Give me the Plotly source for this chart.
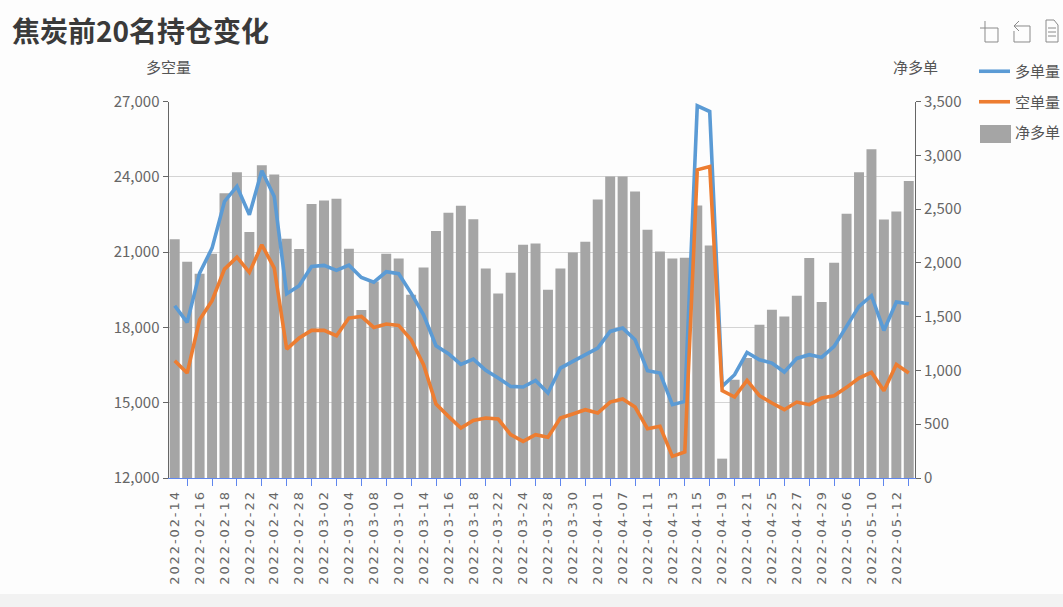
import plotly.graph_objects as go

dates = ["2022-02-14","2022-02-15","2022-02-16","2022-02-17","2022-02-18","2022-02-21","2022-02-22","2022-02-23","2022-02-24","2022-02-25",
         "2022-02-28","2022-03-01","2022-03-02","2022-03-03","2022-03-04","2022-03-07","2022-03-08","2022-03-09","2022-03-10","2022-03-11",
         "2022-03-14","2022-03-15","2022-03-16","2022-03-17","2022-03-18","2022-03-21","2022-03-22","2022-03-23","2022-03-24","2022-03-25",
         "2022-03-28","2022-03-29","2022-03-30","2022-03-31","2022-04-01","2022-04-06","2022-04-07","2022-04-08","2022-04-11","2022-04-12",
         "2022-04-13","2022-04-14","2022-04-15","2022-04-18","2022-04-19","2022-04-20","2022-04-21","2022-04-22","2022-04-25","2022-04-26",
         "2022-04-27","2022-04-28","2022-04-29","2022-05-05","2022-05-06","2022-05-09","2022-05-10","2022-05-11","2022-05-12","2022-05-13"]
long_pos = [18863,18199,20163,21159,23017,23615,22486,24239,23217,19340,
            19659,20429,20469,20270,20482,19991,19805,20217,20137,19367,
            18504,17270,16951,16526,16739,16287,15982,15650,15624,15889,
            15385,16380,16646,16911,17177,17840,17973,17509,16274,16181,
            14920,15053,26827,26601,15650,16115,17004,16712,16580,16221,
            16765,16911,16805,17243,18040,18836,19261,17880,19009,18942]
short_pos = [16672,16181,18305,19062,20323,20800,20190,21292,20363,17137,
             17575,17880,17880,17668,18372,18438,18000,18133,18080,17509,
             16513,14947,14456,13991,14296,14389,14350,13726,13460,13726,
             13620,14389,14549,14721,14588,15026,15146,14827,13965,14058,
             12863,13035,24278,24411,15478,15226,15889,15279,14987,14721,
             15026,14920,15186,15279,15611,15982,16208,15478,16526,16181]
net_long = [2220,2010,1898,2084,2648,2843,2286,2908,2821,2224,
            2128,2546,2580,2595,2131,1561,1827,2084,2041,1703,
            1957,2295,2465,2530,2406,1948,1716,1908,2168,2180,
            1750,1948,2097,2196,2589,2803,2803,2663,2307,2106,
            2041,2047,2533,2162,180,914,1115,1425,1564,1502,
            1694,2044,1635,2000,2456,2843,3057,2403,2478,2762]
left_ticks = [12000,15000,18000,21000,24000,27000]
right_ticks = [0,500,1000,1500,2000,2500,3000,3500]

W, H = 1063, 607
L, R, T, B = 168.5, 915.0, 101.5, 478.0
FONT = "Noto Sans CJK SC"
TXT = "#666666"

def px(x): return x / W
def py(y): return 1 - y / H

fig = go.Figure()
fig.add_trace(go.Scatter(x=dates, y=long_pos, name="多单量", yaxis="y2", mode="lines",
                         line=dict(color="#5b9bd5", width=3.6), legendgroup="a"))
fig.add_trace(go.Scatter(x=dates, y=short_pos, name="空单量", yaxis="y2", mode="lines",
                         line=dict(color="#ed7d31", width=3.6), legendgroup="b"))
fig.add_trace(go.Bar(x=dates, y=net_long, name="净多单", yaxis="y",
                     marker=dict(color="#a5a5a5", line=dict(width=0)), legendgroup="c"))

shapes = [
    dict(type="rect", xref="paper", yref="paper", x0=0, x1=1, y0=py(607), y1=py(594),
         fillcolor="#f2f2f2", line_width=0, layer="below"),
    dict(type="rect", xref="paper", yref="paper", x0=px(980), x1=px(1011), y0=py(143), y1=py(125),
         fillcolor="#a5a5a5", line_width=0, layer="below"),
]
icon = dict(type="path", xref="paper", yref="paper", line=dict(color="#8a8a8a", width=1))
def path(points):
    return "M" + " L".join(f"{px(a):.5f},{py(b):.5f}" for a, b in points)
for pts in (
    [(985, 21), (985, 42), (998, 42), (998, 28), (980, 28)],
    [(1019, 21), (1014, 26), (1019, 31)],
    [(1014, 26), (1030, 26), (1030, 42), (1014, 42), (1014, 31)],
    [(1046, 20), (1054, 20), (1058, 25), (1058, 42), (1046, 42), (1046, 20)],
    [(1048, 28), (1056, 28)], [(1048, 32), (1056, 32)], [(1048, 36), (1056, 36)],
):
    shapes.append(dict(icon, path=path(pts)))

annots = [
    dict(text="多空量", x=px(L), y=py(66), xref="paper", yref="paper", showarrow=False,
         xanchor="center", yanchor="middle", font=dict(family=FONT, size=15, color="#555555")),
    dict(text="净多单", x=px(R), y=py(66), xref="paper", yref="paper", showarrow=False,
         xanchor="center", yanchor="middle", font=dict(family=FONT, size=15, color="#555555")),
]

fig.update_layout(
    width=W, height=H, autosize=False,
    margin=dict(l=0, r=0, t=0, b=0, pad=0, autoexpand=False),
    paper_bgcolor="#fdfdfd", plot_bgcolor="rgba(0,0,0,0)",
    font=dict(family=FONT, color=TXT, size=14),
    title=dict(text="<b>焦炭前20名持仓变化</b>", x=px(12), xanchor="left", xref="paper",
               y=py(32), yanchor="middle", yref="paper",
               font=dict(family=FONT, size=28, color="#3a3a3a")),
    bargap=0.2,
    showlegend=True,
    legend=dict(x=px(974), y=py(55), xanchor="left", yanchor="top", bgcolor="rgba(0,0,0,0)",
                tracegroupgap=8, itemwidth=31, font=dict(family=FONT, size=15, color="#555555"),
                traceorder="grouped"),
    xaxis=dict(domain=[px(L), px(R)], type="category", categoryorder="array", categoryarray=dates,
               range=[-0.5, 59.5], tickmode="array", tickvals=dates[::2], ticktext=dates[::2],
               tickangle=-90, ticks="", ticklabelstandoff=6, showgrid=False, zeroline=False,
               showline=True, linecolor="#5f86ee", linewidth=1,
               tickfont=dict(family="DejaVu Sans", size=13, color="#666666"),
               minor=dict(tickmode="array", tickvals=dates[1::2], ticks="outside", ticklen=7,
                          tickcolor="#5f86ee", tickwidth=1, showgrid=False)),
    yaxis=dict(domain=[py(B), py(T)], side="right", range=[0, 3500], tickmode="array",
               tickvals=right_ticks, tickformat=",", showgrid=False, zeroline=False,
               showline=True, linecolor="#666666", linewidth=1, ticks="outside", ticklen=5,
               tickcolor="#666666", tickfont=dict(family=FONT, size=15, color=TXT)),
    yaxis2=dict(overlaying="y", side="left", range=[12000, 27000], tickmode="array",
                tickvals=left_ticks, tickformat=",", showgrid=True, gridcolor="#d4d4d4", gridwidth=1.4,
                zeroline=False, showline=True, linecolor="#666666", linewidth=1, ticks="outside",
                ticklen=5, tickcolor="#666666", tickfont=dict(family=FONT, size=15, color=TXT)),
    shapes=shapes, annotations=annots,
)

post = """
document.body.style.margin='0';document.body.style.overflow='hidden';
var s=document.createElement('style');s.textContent='.xtick text{letter-spacing:1.9px}';document.head.appendChild(s);
"""
fig.write_html("out.html", post_script=post, config={"displayModeBar": False})
